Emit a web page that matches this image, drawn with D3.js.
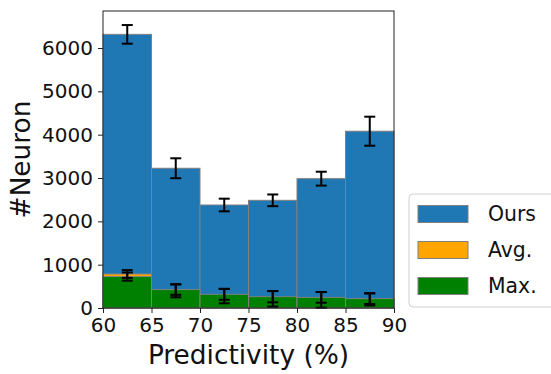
<!DOCTYPE html>
<html>
<head>
<meta charset="utf-8">
<script src="https://cdn.jsdelivr.net/npm/d3@7"></script>
<style>
  html, body { margin: 0; padding: 0; background: #fff; }
  svg { display: block; font-family: "DejaVu Sans", sans-serif; }
</style>
</head>
<body>
<svg id="chart" width="551" height="374"></svg>
<script>
// Histogram bins of predictivity (%), left edges, each 5 wide
const binStarts = [60, 65, 70, 75, 80, 85];
const binWidth = 5;

// Neuron counts per bin with standard deviations
const oursValues = [6315, 3225, 2377, 2485, 2985, 4080];
const oursErrors = [215, 230, 146, 135, 160, 335];
const avgValues  = [785, 397, 273, 211, 188, 200];
const avgErrors  = [90, 150, 165, 180, 181, 140];
const maxValues  = [725, 425, 316, 261, 245, 215];
const maxErrors  = [95, 120, 127, 130, 123, 123];

const xTicks = [60, 65, 70, 75, 80, 85, 90];
const yTicks = [0, 1000, 2000, 3000, 4000, 5000, 6000];

const seriesNames = ["Ours", "Avg.", "Max."];
const seriesColors = ["#1f77b4", "#ffa500", "#008000"];

const svg = d3.select("#chart");
const plot = { left: 103, right: 394, top: 11, bottom: 308 };

const x = d3.scaleLinear().domain([60, 90]).range([plot.left, plot.right]);
const y = d3.scaleLinear().domain([0, 6854]).range([plot.bottom, plot.top]);

const series = [
  { values: oursValues, errors: oursErrors, color: seriesColors[0] },
  { values: avgValues,  errors: avgErrors,  color: seriesColors[1] },
  { values: maxValues,  errors: maxErrors,  color: seriesColors[2] }
];

// Bars
series.forEach(s => {
  svg.append("g").selectAll("rect")
    .data(binStarts)
    .join("rect")
    .attr("x", d => x(d))
    .attr("width", d => x(d + binWidth) - x(d))
    .attr("y", (d, i) => y(s.values[i]))
    .attr("height", (d, i) => y(0) - y(s.values[i]))
    .attr("fill", s.color)
    .attr("stroke", "#808080")
    .attr("stroke-width", 1);
});

// Error bars on top of all bars
const capHalf = 5.5;
series.forEach(s => {
  const g = svg.append("g").attr("stroke", "#000").attr("stroke-width", 2).attr("fill", "none");
  binStarts.forEach((d, i) => {
    const cx = x(d + binWidth / 2);
    const hi = y(s.values[i] + s.errors[i]);
    const lo = y(s.values[i] - s.errors[i]);
    g.append("line").attr("x1", cx).attr("x2", cx).attr("y1", hi).attr("y2", lo);
    g.append("line").attr("x1", cx - capHalf).attr("x2", cx + capHalf).attr("y1", hi).attr("y2", hi);
    g.append("line").attr("x1", cx - capHalf).attr("x2", cx + capHalf).attr("y1", lo).attr("y2", lo);
  });
});

// Frame
svg.append("rect")
  .attr("x", plot.left).attr("y", plot.top)
  .attr("width", plot.right - plot.left).attr("height", plot.bottom - plot.top)
  .attr("fill", "none").attr("stroke", "#222").attr("stroke-width", 1);

// Axes
const xAxis = svg.append("g")
  .attr("transform", `translate(0,${plot.bottom})`)
  .call(d3.axisBottom(x).tickValues(xTicks).tickSize(5).tickPadding(5).tickFormat(d3.format("d")));
const yAxis = svg.append("g")
  .attr("transform", `translate(${plot.left},0)`)
  .call(d3.axisLeft(y).tickValues(yTicks).tickSize(5).tickPadding(5).tickFormat(d3.format("d")));

[xAxis, yAxis].forEach(a => {
  a.select(".domain").remove();
  a.selectAll(".tick line").attr("stroke", "#222");
  a.selectAll(".tick text")
    .attr("fill", "#111")
    .style("font-size", "20px")
    .style("font-family", "DejaVu Sans, sans-serif");
});

// Axis titles
svg.append("text")
  .attr("x", (plot.left + plot.right) / 2)
  .attr("y", 364)
  .attr("text-anchor", "middle")
  .style("font-size", "26.4px")
  .attr("fill", "#111")
  .text("Predictivity (%)");

svg.append("text")
  .attr("transform", `translate(30,${(plot.top + plot.bottom) / 2}) rotate(-90)`)
  .attr("text-anchor", "middle")
  .style("font-size", "26.4px")
  .attr("fill", "#111")
  .text("#Neuron");

// Legend
const legend = svg.append("g");
legend.append("rect")
  .attr("x", 409).attr("y", 194)
  .attr("width", 160).attr("height", 113)
  .attr("rx", 4)
  .attr("fill", "#fff")
  .attr("stroke", "#d0d0d0")
  .attr("stroke-width", 1);

seriesNames.forEach((name, i) => {
  const cy = 214 + i * 36;
  legend.append("rect")
    .attr("x", 418).attr("y", cy - 8.5)
    .attr("width", 50).attr("height", 17)
    .attr("fill", seriesColors[i])
    .attr("stroke", "#808080")
    .attr("stroke-width", 1);
  legend.append("text")
    .attr("x", 488).attr("y", cy)
    .attr("dy", "0.36em")
    .style("font-size", "20.4px")
    .attr("fill", "#111")
    .text(name);
});
</script>
</body>
</html>
